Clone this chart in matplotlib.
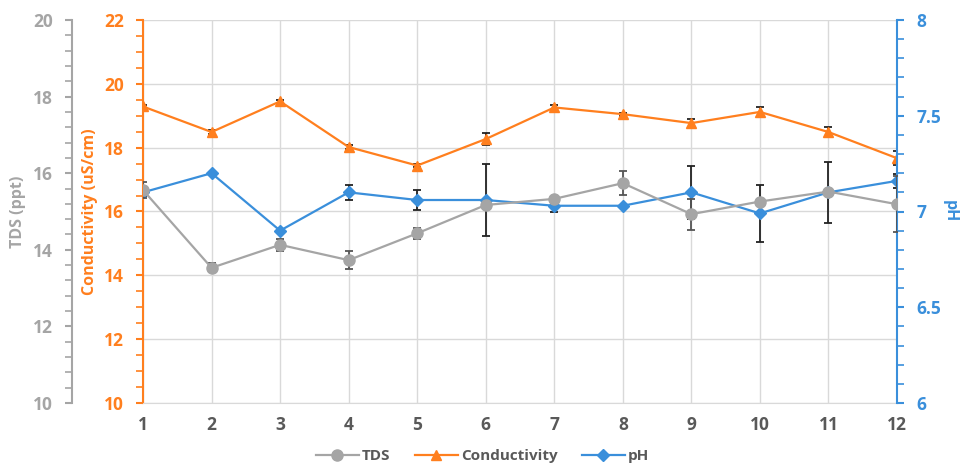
import numpy as np
import matplotlib
matplotlib.use('Agg')

import matplotlib.pyplot as plt
from matplotlib.ticker import MultipleLocator


days = [1, 2, 3, 4, 5, 6, 7, 8, 9, 10, 11, 12]

tds = [15.56, 13.53, 14.13, 13.73, 14.43, 15.17, 15.33, 15.74, 14.93, 15.26, 15.52, 15.19]
tds_err = [0.2, 0.12, 0.15, 0.24, 0.15, 0.05, 0.05, 0.31, 0.4, 0.05, 0.05, 0.73]

cond = [19.29, 18.49, 19.45, 18.02, 17.44, 18.27, 19.26, 19.05, 18.77, 19.12, 18.49, 17.67]
cond_err = [0.05, 0.05, 0.05, 0.06, 0.05, 0.19, 0.08, 0.05, 0.14, 0.16, 0.17, 0.21]

ph = [7.10, 7.20, 6.90, 7.10, 7.06, 7.06, 7.03, 7.03, 7.10, 6.99, 7.10, 7.16]
ph_err = [0.02, 0.0, 0.0, 0.04, 0.05, 0.19, 0.03, 0.0, 0.14, 0.15, 0.16, 0.035]

GRAY = '#A5A5A5'
ORANGE = '#FF7F1E'
BLUE = '#3A8FDB'
TEXT = '#595959'

plt.rcParams['font.family'] = ['Open Sans', 'DejaVu Sans']
plt.rcParams['font.weight'] = 'bold'

fig = plt.figure(figsize=(9.65, 4.72), dpi=100)
ax = fig.add_axes([143 / 965, 69 / 472, 754 / 965, 383 / 472])
ax_ph = ax.twinx()
ax_tds = ax.twinx()

# conductivity on the main axis (carries the gridlines)
h_cond = ax.errorbar(days, cond, yerr=cond_err, color=ORANGE, marker='^', markersize=7,
                     lw=1.6, ecolor='#222222', elinewidth=1.3, capsize=3, capthick=1.3)
h_ph = ax_ph.errorbar(days, ph, yerr=ph_err, color=BLUE, marker='D', markersize=6,
                      lw=1.6, ecolor='#222222', elinewidth=1.3, capsize=3, capthick=1.3)
h_tds = ax_tds.errorbar(days, tds, yerr=tds_err, color=GRAY, marker='o', markersize=8,
                        lw=1.6, ecolor='#555555', elinewidth=1.3, capsize=3, capthick=1.3)

ax.set_xlim(1, 12)
ax.set_xticks(days)
ax.set_ylim(10, 22)
ax.yaxis.set_major_locator(MultipleLocator(2))
ax.yaxis.set_minor_locator(MultipleLocator(0.5))
ax.grid(True, color='#D9D9D9', lw=1)
ax.set_axisbelow(True)

ax_tds.set_ylim(10, 20)
ax_tds.yaxis.set_major_locator(MultipleLocator(2))
ax_tds.yaxis.set_minor_locator(MultipleLocator(0.4))
ax_tds.yaxis.set_ticks_position('left')
ax_tds.yaxis.set_label_position('left')
ax_tds.spines['left'].set_position(('outward', 51))

ax_ph.set_ylim(6, 8)
ax_ph.yaxis.set_minor_locator(MultipleLocator(0.1))
ax_ph.set_yticks([6, 6.5, 7, 7.5, 8])
ax_ph.set_yticklabels(['6', '6.5', '7', '7.5', '8'])

for a in (ax, ax_ph, ax_tds):
    for s in a.spines.values():
        s.set_visible(False)

ax.spines['bottom'].set_visible(True)
ax.spines['bottom'].set_color('#D9D9D9')
ax.spines['left'].set_visible(True)
ax.spines['left'].set_color(ORANGE)
ax.spines['left'].set_linewidth(1.5)
ax_tds.spines['left'].set_visible(True)
ax_tds.spines['left'].set_color(GRAY)
ax_tds.spines['left'].set_linewidth(1.5)
ax_ph.spines['right'].set_visible(True)
ax_ph.spines['right'].set_color(BLUE)
ax_ph.spines['right'].set_linewidth(1.5)

ax.tick_params(axis='x', length=0, pad=9, labelsize=12.5, labelcolor=TEXT)
ax.tick_params(axis='y', which='major', length=5, width=1.5, color=ORANGE,
               labelcolor=ORANGE, labelsize=12.5, pad=9)
ax.tick_params(axis='y', which='minor', length=5, width=1.2, color=ORANGE)
ax_tds.tick_params(axis='y', which='major', length=5, width=1.5, color=GRAY,
                   labelcolor=GRAY, labelsize=12.5, pad=9)
ax_tds.tick_params(axis='y', which='minor', length=5, width=1.2, color=GRAY)
ax_ph.tick_params(axis='y', which='major', length=5, width=1.5, color=BLUE,
                  labelcolor=BLUE, labelsize=12.5, pad=9)
ax_ph.tick_params(axis='y', which='minor', length=5, width=1.2, color=BLUE)

for a in (ax, ax_ph, ax_tds):
    for lbl in a.get_xticklabels() + a.get_yticklabels():
        lbl.set_fontweight('bold')

ax.set_ylabel('Conductivity (uS/cm)', color=ORANGE, fontsize=11.5, fontweight='bold', labelpad=4)
ax_tds.set_ylabel('TDS (ppt)', color=GRAY, fontsize=11.5, fontweight='bold', labelpad=5)
ax_ph.set_ylabel('pH', color=BLUE, fontsize=11.5, fontweight='bold', rotation=270, labelpad=12)

fig.legend([h_tds[0], h_cond[0], h_ph[0]], ['TDS', 'Conductivity', 'pH'], loc='lower center',
           bbox_to_anchor=(0.5, -0.01), ncol=3, frameon=False,
           prop={'size': 11, 'weight': 'bold'},
           labelcolor=TEXT, handlelength=2.8, columnspacing=1.6, handletextpad=0.2)

fig.savefig('out.png', dpi=100)
plt.close()
